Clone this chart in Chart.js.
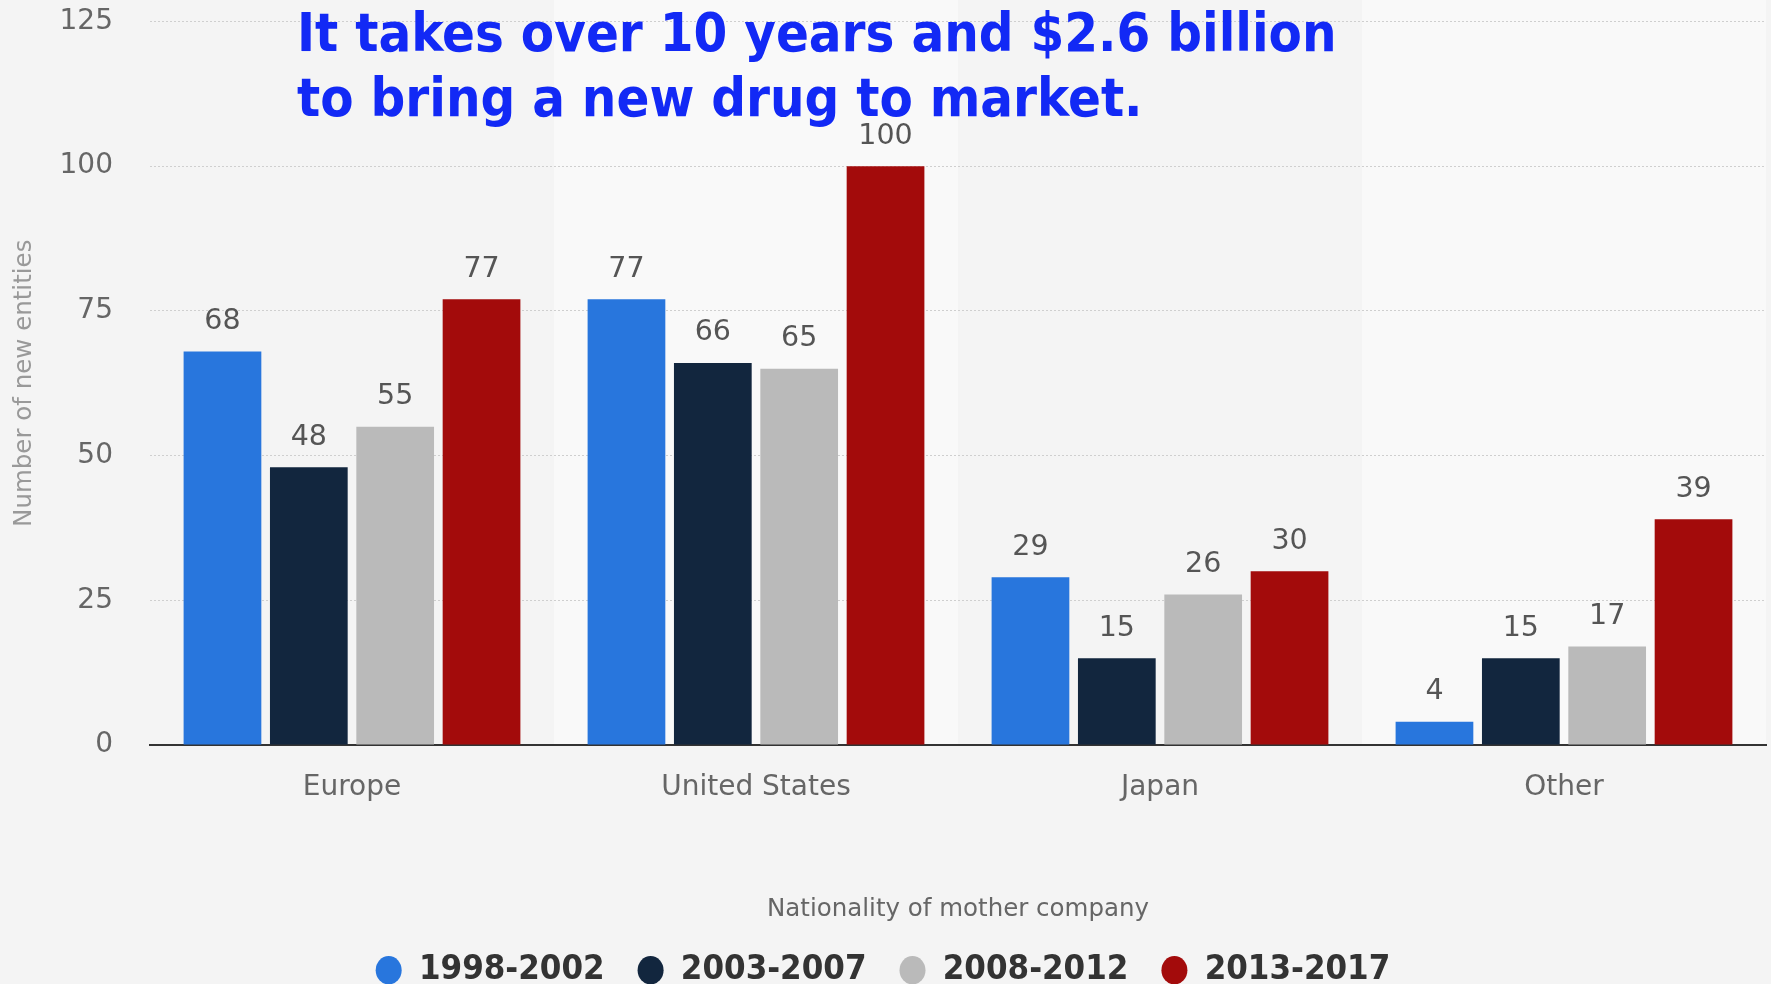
<!DOCTYPE html>
<html>
<head>
<meta charset="utf-8">
<script src="https://cdn.jsdelivr.net/npm/chart.js@4"></script>
<style>
  html, body { margin: 0; padding: 0; background: #f4f4f4; }
  #wrap { width: 1771px; height: 984px; position: relative; overflow: hidden; }
  canvas { display: block; }
</style>
</head>
<body>
<div id="wrap"><canvas id="c" width="1771" height="984"></canvas></div>
<script>
const categories = ['Europe', 'United States', 'Japan', 'Other'];
const seriesLabels = ['1998-2002', '2003-2007', '2008-2012', '2013-2017'];
const values1998 = [68, 77, 29, 4];
const values2003 = [48, 66, 15, 15];
const values2008 = [55, 65, 26, 17];
const values2013 = [77, 100, 30, 39];
const yTicks = [0, 25, 50, 75, 100, 125];
const titleLines = ['It takes over 10 years and $2.6 billion', 'to bring a new drug to market.'];
const yTitle = 'Number of new entities';
const xTitle = 'Nationality of mother company';

const colors = ['#2876dd', '#12263e', '#bababa', '#a30b0b'];
const allValues = [values1998, values2003, values2008, values2013];

Chart.defaults.font.family = "'DejaVu Sans', sans-serif";

const bandPlugin = {
  id: 'bands',
  beforeDraw(chart) {
    const {ctx, chartArea, scales} = chart;
    const x = scales.x;
    ctx.save();
    for (let i = 0; i < categories.length; i++) {
      if (i % 2 === 1) {
        const c = x.getPixelForValue(i);
        const half = (x.getPixelForValue(1) - x.getPixelForValue(0)) / 2;
        ctx.fillStyle = '#f9f9f9';
        ctx.fillRect(c - half, 0, half * 2, chartArea.bottom);
      }
    }
    ctx.restore();
  }
};

const labelPlugin = {
  id: 'valueLabels',
  afterDatasetsDraw(chart) {
    const {ctx} = chart;
    ctx.save();
    ctx.font = "28.5px 'DejaVu Sans'";
    ctx.fillStyle = '#555555';
    ctx.textAlign = 'center';
    ctx.textBaseline = 'middle';
    chart.data.datasets.forEach((ds, di) => {
      const meta = chart.getDatasetMeta(di);
      meta.data.forEach((el, i) => {
        ctx.fillText(String(ds.data[i]), el.x, el.y - 30);
      });
    });
    ctx.restore();
  }
};

const titlePlugin = {
  id: 'bigTitle',
  afterDraw(chart) {
    const {ctx} = chart;
    ctx.save();
    ctx.font = "bold 54px 'DejaVu Sans Condensed', 'DejaVu Sans'";
    ctx.fillStyle = '#1229f5';
    ctx.textAlign = 'left';
    ctx.textBaseline = 'alphabetic';
    ctx.fillText(titleLines[0], 297, 51);
    ctx.fillText(titleLines[1], 297, 116);
    ctx.restore();
  }
};

new Chart(document.getElementById('c'), {
  type: 'bar',
  data: {
    labels: categories,
    datasets: seriesLabels.map((lab, i) => ({
      label: lab,
      data: allValues[i],
      backgroundColor: colors[i],
      borderColor: colors[i],
      borderWidth: 0,
      categoryPercentage: 0.855,
      barPercentage: 0.90
    }))
  },
  options: {
    responsive: false,
    animation: false,
    devicePixelRatio: 1,
    layout: { padding: { top: 21.5, right: 5, left: 0, bottom: -13.5 } },
    plugins: {
      legend: {
        position: 'bottom',
        labels: {
          usePointStyle: true,
          pointStyle: 'circle',
          boxHeight: 20,
          pointStyleWidth: 26,
          padding: 33,
          color: '#333333',
          font: { family: "'DejaVu Sans Condensed', 'DejaVu Sans'", weight: 'bold', size: 34.5 }
        }
      },
      tooltip: { enabled: false },
      title: { display: false }
    },
    scales: {
      x: {
        grid: { display: false, drawTicks: false },
        border: { display: true, color: '#333333', width: 2 },
        ticks: { color: '#666666', font: { size: 28 }, padding: 26 },
        title: { display: true, text: xTitle, color: '#666666', font: { size: 24.5 }, padding: { top: 60, bottom: -4 } },
        afterFit(scale) { scale.height = 175; }
      },
      y: {
        min: 0, max: 125,
        afterBuildTicks(scale) { scale.ticks = yTicks.map(v => ({ value: v })); },
        grid: { color: '#cfcfcf', lineWidth: 1, drawTicks: false },
        border: { display: false, dash: [2, 2] },
        ticks: { color: '#666666', font: { size: 28 }, padding: 37 },
        title: { display: true, text: yTitle, color: '#999999', font: { size: 24.5 }, padding: { top: 10, bottom: 0 } },
        afterFit(scale) { scale.width = 150; scale.paddingTop = 0; scale.paddingBottom = 0; }
      }
    }
  },
  plugins: [bandPlugin, labelPlugin, titlePlugin]
});
</script>
</body>
</html>
